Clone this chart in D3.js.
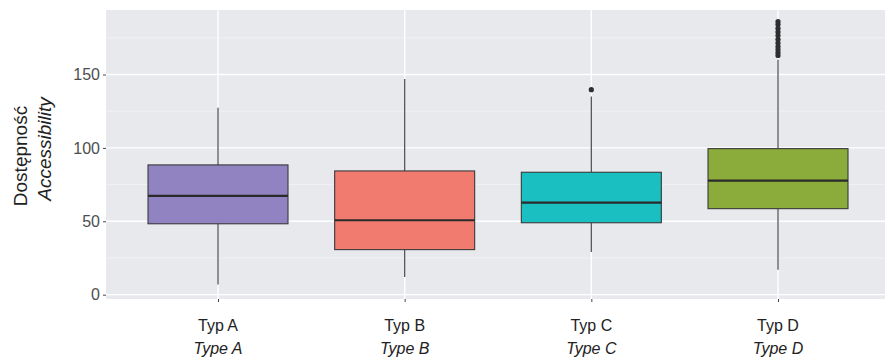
<!DOCTYPE html>
<html>
<head>
<meta charset="utf-8">
<script src="https://cdn.jsdelivr.net/npm/d3@7"></script>
<style>
  html, body { margin: 0; padding: 0; background: #ffffff; }
  svg { display: block; font-family: "Liberation Sans", Arial, sans-serif; }
</style>
</head>
<body>
<svg id="chart" width="885" height="358"></svg>
<script>
// ---- data ----
const categories = ["Typ A", "Typ B", "Typ C", "Typ D"];
const categoriesEn = ["Type A", "Type B", "Type C", "Type D"];
const whiskerLow = [7, 12, 29, 17];
const q1 = [48.3, 30.7, 49, 58.6];
const median = [67.3, 50.7, 62.7, 77.7];
const q3 = [88.4, 84.3, 83.4, 99.5];
const whiskerHigh = [127.3, 147, 135, 160];
const outliers = [[], [], [139.7], [186, 184, 181.5, 179, 176.5, 174, 171.5, 169, 167, 165, 163]];
const colors = ["#9183c1", "#f27b70", "#19bfc1", "#8bab3b"];
const yTicks = [0, 50, 100, 150];
const yMinor = [25, 75, 125, 175];

// ---- layout ----
const svg = d3.select("#chart");
const panel = { left: 106, top: 10, bottom: 299, right: 890 };

const x = d3.scalePoint().domain(categories).range([panel.left, panel.right]).padding(0.6);
const step = x.step();
const y = d3.scaleLinear().domain([-2.95, 193.95]).range([panel.bottom, panel.top]);

// panel background
svg.append("rect")
  .attr("x", panel.left).attr("y", panel.top)
  .attr("width", panel.right - panel.left).attr("height", panel.bottom - panel.top)
  .attr("fill", "#e7e9ec");

// minor gridlines
svg.append("g").selectAll("line").data(yMinor).join("line")
  .attr("x1", panel.left).attr("x2", panel.right)
  .attr("y1", d => y(d)).attr("y2", d => y(d))
  .attr("stroke", "#f4f5f7").attr("stroke-width", 0.8);

// major gridlines
svg.append("g").selectAll("line").data(yTicks).join("line")
  .attr("x1", panel.left).attr("x2", panel.right)
  .attr("y1", d => y(d)).attr("y2", d => y(d))
  .attr("stroke", "#ffffff").attr("stroke-width", 1.4);

svg.append("g").selectAll("line").data(categories).join("line")
  .attr("x1", d => x(d)).attr("x2", d => x(d))
  .attr("y1", panel.top).attr("y2", panel.bottom)
  .attr("stroke", "#ffffff").attr("stroke-width", 1.4);

// y axis
const yAxis = d3.axisLeft(y).tickValues(yTicks).tickSize(3).tickPadding(3);
const gy = svg.append("g").attr("transform", `translate(${panel.left},0)`).call(yAxis);
gy.select(".domain").remove();
gy.selectAll(".tick line").attr("stroke", "#444").attr("stroke-width", 1);
gy.selectAll(".tick text").attr("fill", "#4d4d4d").attr("font-size", 16)
  .attr("font-family", "'Liberation Sans', Arial, sans-serif");

// x axis
const xAxis = d3.axisBottom(x).tickSize(3).tickFormat(() => "");
const gx = svg.append("g").attr("transform", `translate(0,${panel.bottom})`).call(xAxis);
gx.select(".domain").remove();
gx.selectAll(".tick line").attr("stroke", "#444").attr("stroke-width", 1);

// x labels (two lines)
svg.append("g").selectAll("text").data(categories).join("text")
  .attr("x", d => x(d)).attr("y", 331)
  .attr("text-anchor", "middle").attr("font-size", 16).attr("fill", "#222")
  .text(d => d);
svg.append("g").selectAll("text").data(categoriesEn).join("text")
  .attr("x", (d, i) => x(categories[i])).attr("y", 354)
  .attr("text-anchor", "middle").attr("font-size", 16).attr("font-style", "italic").attr("fill", "#222")
  .text(d => d);

// y title
svg.append("text")
  .attr("transform", `translate(27,156) rotate(-90)`)
  .attr("text-anchor", "middle").attr("font-size", 19).attr("fill", "#222")
  .text("Dostępność");
svg.append("text")
  .attr("transform", `translate(51,149) rotate(-90)`)
  .attr("text-anchor", "middle").attr("font-size", 19).attr("font-style", "italic").attr("fill", "#222")
  .text("Accessibility");

// boxes
const bw = step * 0.75;
const g = svg.append("g");
categories.forEach((c, i) => {
  const cx = x(c);
  g.append("line").attr("x1", cx).attr("x2", cx)
    .attr("y1", y(q3[i])).attr("y2", y(whiskerHigh[i]))
    .attr("stroke", "#555").attr("stroke-width", 1.3);
  g.append("line").attr("x1", cx).attr("x2", cx)
    .attr("y1", y(q1[i])).attr("y2", y(whiskerLow[i]))
    .attr("stroke", "#555").attr("stroke-width", 1.3);
  g.append("rect")
    .attr("x", cx - bw / 2).attr("width", bw)
    .attr("y", y(q3[i])).attr("height", y(q1[i]) - y(q3[i]))
    .attr("fill", colors[i]).attr("stroke", "#3a3a3a").attr("stroke-width", 1.1);
  g.append("line").attr("x1", cx - bw / 2).attr("x2", cx + bw / 2)
    .attr("y1", y(median[i])).attr("y2", y(median[i]))
    .attr("stroke", "#2a2a2a").attr("stroke-width", 2.2);
  g.selectAll(null).data(outliers[i]).join("circle")
    .attr("cx", cx).attr("cy", d => y(d)).attr("r", 2.6)
    .attr("fill", "#2e2e2e");
});
</script>
</body>
</html>
